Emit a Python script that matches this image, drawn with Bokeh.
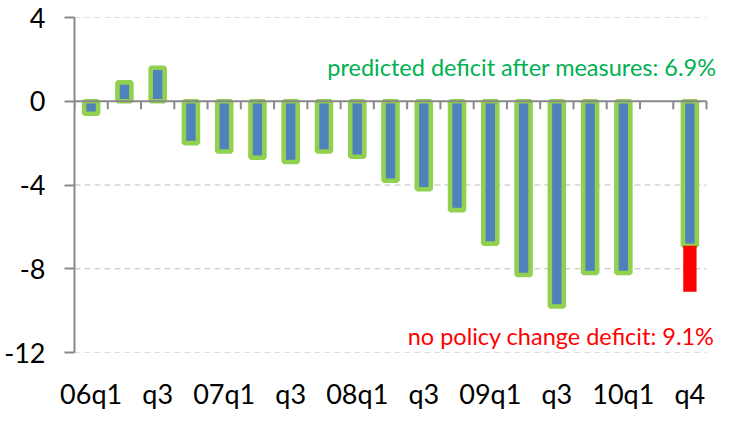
from bokeh.plotting import figure
from bokeh.models import Range1d, FixedTicker, Label
from bokeh.embed import file_html
from bokeh.resources import INLINE

# ---- data ----
quarters = ["06q1", "06q2", "06q3", "06q4", "07q1", "07q2", "07q3", "07q4",
            "08q1", "08q2", "08q3", "08q4", "09q1", "09q2", "09q3", "09q4", "10q1"]
deficit = [-0.6, 0.9, 1.6, -2.0, -2.4, -2.7, -2.9, -2.4,
           -2.65, -3.8, -4.2, -5.2, -6.8, -8.3, -9.8, -8.2, -8.2]
forecast_quarter = "10q4"
after_measures = -6.9
no_policy_change = -9.1
tick_labels = ["06q1", "q3", "07q1", "q3", "08q1", "q3", "09q1", "q3", "10q1", "q4"]
y_ticks = [4, 0, -4, -8, -12]

FONT = "Lato"
GRAY = "#898989"

W, H = 719, 414
BL, BR, BT, BB = 74, 2, 17, 62
FRAME_H = H - BT - BB
X_PAD = 0.33                         # room right of the last slot for the notes

n_slots = len(quarters) + 2          # one empty slot before the forecast
xs = [i + 0.5 for i in range(len(quarters))]
x_fc = n_slots - 0.5

p = figure(width=W, height=H,
           x_range=Range1d(0, n_slots + X_PAD), y_range=Range1d(-12, 4),
           output_backend="svg", toolbar_location=None,
           min_border_left=BL, min_border_right=BR,
           min_border_top=BT, min_border_bottom=BB)
p.outline_line_color = None
p.background_fill_color = "white"
p.xgrid.grid_line_color = None
p.ygrid.grid_line_color = None

# dashed horizontal gridlines limited to the category area
grid_y = [t for t in y_ticks if t != 0]
p.segment(x0=[0] * len(grid_y), x1=[n_slots] * len(grid_y), y0=grid_y, y1=grid_y,
          line_color="#BDBDBD", line_dash="6 4", line_width=1)

# y axis
p.yaxis.ticker = FixedTicker(ticks=y_ticks)
p.yaxis.major_label_overrides = {t: str(t) for t in y_ticks}
p.yaxis.axis_line_color = GRAY
p.yaxis.axis_line_width = 2
p.yaxis.major_tick_line_color = GRAY
p.yaxis.major_tick_line_width = 2
p.yaxis.major_tick_in = 0
p.yaxis.major_tick_out = 10
p.yaxis.minor_tick_line_color = None
p.yaxis.major_label_standoff = 19
p.yaxis.major_label_text_font = FONT
p.yaxis.major_label_text_font_size = "27px"
p.yaxis.major_label_text_color = "black"

# x axis (labels only, at the bottom)
label_pos = [i + 0.5 for i in range(0, n_slots, 2)]
p.xaxis.ticker = FixedTicker(ticks=label_pos)
p.xaxis.major_label_overrides = {x: t for x, t in zip(label_pos, tick_labels)}
p.xaxis.axis_line_color = None
p.xaxis.major_tick_line_color = None
p.xaxis.major_tick_in = 0
p.xaxis.major_tick_out = 0
p.xaxis.minor_tick_line_color = None
p.xaxis.major_label_standoff = 24
p.xaxis.major_label_text_font = FONT
p.xaxis.major_label_text_font_size = "27px"
p.xaxis.major_label_text_color = "black"

# bars
p.vbar(x=xs, top=deficit, bottom=0, width=0.42,
       fill_color="#4F81BD", line_color="#92D050", line_width=4.6)
p.vbar(x=[x_fc], top=[after_measures], bottom=0, width=0.42,
       fill_color="#4F81BD", line_color="#92D050", line_width=4.6)
p.vbar(x=[x_fc], top=[after_measures], bottom=[no_policy_change], width=0.40,
       fill_color="#FF0000", line_color=None)

# zero axis line with category boundary ticks
tick_len = 8 * 16 / FRAME_H
p.segment(x0=list(range(n_slots + 1)), x1=list(range(n_slots + 1)),
          y0=0, y1=-tick_len, line_color=GRAY, line_width=2)
p.segment(x0=[0], x1=[n_slots], y0=[0], y1=[0], line_color=GRAY, line_width=2)

# annotations
p.add_layout(Label(x=n_slots + X_PAD, y=1.62, x_offset=-1,
                   text=f"predicted deficit after measures: {abs(after_measures):.1f}%",
                   text_align="right", text_baseline="middle",
                   text_font=FONT, text_font_size="23.5px", text_color="#00B050"))
p.add_layout(Label(x=n_slots + X_PAD, y=-11.2, x_offset=-3,
                   text=f"no policy change deficit: {abs(no_policy_change):.1f}%",
                   text_align="right", text_baseline="middle",
                   text_font=FONT, text_font_size="23.5px", text_color="#FF0000"))

open("out.html", "w").write(file_html(p, INLINE))
